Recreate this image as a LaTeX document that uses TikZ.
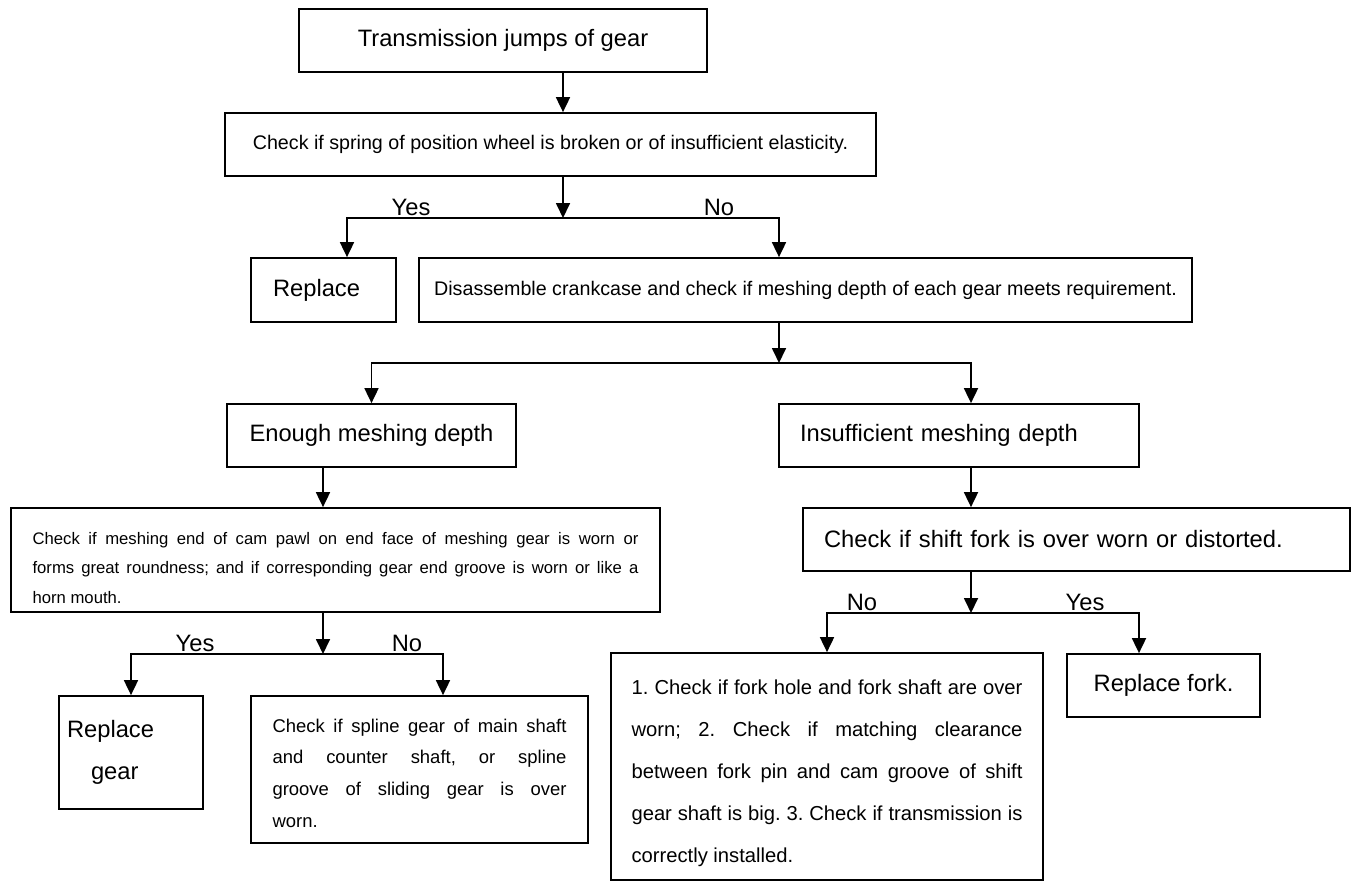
\documentclass[tikz,border=0pt]{standalone}
\usepackage{fontspec}
\setmainfont{Liberation Sans}
\usetikzlibrary{arrows.meta}

% one justified line of a given width
\newcommand{\jl}[2]{\makebox[#1][s]{#2}}

\tikzset{
  box/.style={draw, line width=1pt, inner sep=0pt, minimum height=1.26cm},
  big/.style={font=\fontsize{13.5}{16}\selectfont},
  small/.style={font=\fontsize{11.2}{14}\selectfont},
  arr/.style={line width=1pt, -{Triangle[length=0.3cm,width=0.28cm]}},
  yn/.style={big, anchor=base, inner sep=0pt},
}

\begin{document}
\frenchspacing
\begin{tikzpicture}[x=0.02cm, y=-0.02cm]
    \useasboundingbox (0,0) rectangle (1352,883);

    % Junction points of the branches
    \coordinate (j1) at (563,218);
    \coordinate (j2) at (779,363);
    \coordinate (j3) at (323,654);
    \coordinate (j4) at (971,613);

    % Top of the chart
    \node[box, big, minimum width=8.16cm] (jump) at (503,40.5) {Transmission jumps of gear};
    \node[box, small, minimum width=13.02cm] (spring) at (550.5,144.5)
        {Check if spring of position wheel is broken or of insufficient elasticity.};
    \draw[arr] (jump.south -| j1) -- (spring.north -| j1);
    \draw[arr] (spring.south -| j1) -- (j1);

    % First Yes / No
    \node[box, big, minimum width=2.9cm, minimum height=1.28cm, text width=2.02cm, align=left] (replace) at (323.5,290) {Replace};
    \node[box, small, minimum width=15.46cm, minimum height=1.28cm] (disasm) at (805.5,290)
        {Disassemble crankcase and check if meshing depth of each gear meets requirement.};
    \node[yn] (yes1) at (411,215) {Yes};
    \node[yn] (no1) at (719,215) {No};
    \draw[arr] (j1) -| (replace.north -| 347,0);
    \draw[arr] (j1) -| (disasm.north -| j2);

    % Meshing depth
    \draw[arr] (disasm.south -| j2) -- (j2);
    \node[box, big, minimum width=5.78cm] (enough) at (371.5,435.5) {Enough meshing depth};
    \node[box, big, minimum width=7.2cm, text width=6.36cm, align=left] (insuff) at (959,435.5)
        {Insufficient meshing depth};
    \draw[arr] (j2) -| (enough.north);
    \draw[arr] (j2) -| (insuff.north -| j4);

    % Left branch
    \node[box, font=\fontsize{9.5}{17}\selectfont, minimum width=12.98cm, minimum height=2.08cm, align=left] (cam) at (335.5,560)
        {\rule{0pt}{16pt}\jl{12.12cm}{Check if meshing end of cam pawl on end face of meshing gear is worn or}\\
         \jl{12.12cm}{forms great roundness; and if corresponding gear end groove is worn or like a}\\
         horn mouth.};
    \draw[arr] (enough.south -| j3) -- (cam.north -| j3);
    \draw[arr] (cam.south -| j3) -- (j3);
    \node[yn] (yes2) at (195,651) {Yes};
    \node[yn] (no2) at (407,651) {No};
    \node[box, font=\fontsize{13.5}{24}\selectfont, minimum width=2.88cm, minimum height=2.26cm, text width=2.56cm, align=left] (regear) at (131,752.5)
        {Replace\\\hspace*{0.48cm}gear};
    \node[box, font=\fontsize{10.5}{18.2}\selectfont, minimum width=6.74cm, minimum height=2.94cm, align=left] (spline) at (419.5,769.5)
        {\rule{0pt}{12pt}\jl{5.88cm}{Check if spline gear of main shaft}\\
         \jl{5.88cm}{and counter shaft, or spline}\\
         \jl{5.88cm}{groove of sliding gear is over}\\
         worn.};
    \draw[arr] (j3) -| (regear.north);
    \draw[arr] (j3) -| (spline.north -| 443,0);

    % Right branch
    \node[box, big, minimum width=10.94cm, text width=10.1cm, align=left] (shift) at (1076.5,539.5)
        {Check if shift fork is over worn or distorted.};
    \draw[arr] (insuff.south -| j4) -- (shift.north -| j4);
    \draw[arr] (shift.south -| j4) -- (j4);
    \node[yn] (no3) at (862,610) {No};
    \node[yn] (yes3) at (1085,610) {Yes};
    \node[box, font=\fontsize{11.5}{23.9}\selectfont, minimum width=8.64cm, minimum height=4.54cm, align=left] (forkhole) at (827,766.5)
        {\rule{0pt}{16.4pt}\jl{7.82cm}{1. Check if fork hole and fork shaft are over}\\
         \jl{7.82cm}{worn; 2. Check if matching clearance}\\
         \jl{7.82cm}{between fork pin and cam groove of shift}\\
         \jl{7.82cm}{gear shaft is big. 3. Check if transmission is}\\
         correctly installed.};
    \node[box, big, minimum width=3.86cm] (refork) at (1163.5,685.5) {Replace fork.};
    \draw[arr] (j4) -| (forkhole.north);
    \draw[arr] (j4) -| (refork.north -| 1139,0);

\end{tikzpicture}
\end{document}
